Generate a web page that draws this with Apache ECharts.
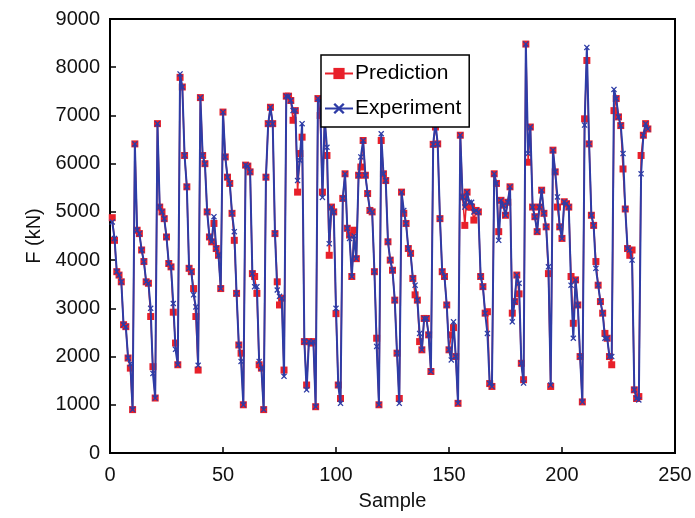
<!DOCTYPE html>
<html>
<head>
<meta charset="utf-8">
<script src="https://cdn.jsdelivr.net/npm/echarts@6/dist/echarts.min.js"></script>
<style>
html,body{margin:0;padding:0;background:#fff;}
#chart{width:695px;height:518px;}
</style>
</head>
<body>
<div id="chart"></div>
<script>
// Sample numbers start at 1
const prediction = [
4880,4410,3760,3690,3550,2660,2620,1970,1760,900,
6410,4620,4550,4210,3970,3550,3520,2830,1790,1140,
6830,5100,5000,4860,4480,3930,3860,2920,2280,1830,
7790,7590,6170,5520,3830,3760,3410,2830,1720,7370,
6170,6000,5000,4480,4380,4760,4240,4100,3410,7070,
6140,5720,5590,4970,4410,3310,2240,2070,1000,5970,
5950,5830,3720,3660,3310,1830,1760,900,5720,6830,
7170,6830,4550,3550,3070,3210,1720,7400,7400,7310,
6900,7100,5410,6210,6550,2310,1410,2310,2280,2310,
960,7350,7000,5410,6930,6170,4100,5100,5000,2890,
1410,1130,5280,5790,4660,4520,3660,4620,4030,5760,
5930,6480,5760,5380,5030,5000,3760,2380,1000,6480,
5790,5650,4380,4000,3790,3170,2070,1130,5410,4970,
4760,4240,4140,3620,3280,3170,2310,2140,2790,2790,
2450,1690,6400,6760,6410,4860,3760,3660,3070,2140,
2450,2600,2000,1030,6590,5310,4720,5410,5100,5100,
4830,5030,5000,3660,3450,2900,2930,1440,1380,5790,
5590,4590,5240,5140,4930,5200,5520,2900,3140,3690,
3300,1860,1520,8480,6030,6760,5100,4900,4590,5100,
5450,4970,4690,3720,1380,6280,5830,5100,4690,4450,
5210,5170,5100,3660,2690,3590,3070,2000,1060,6930,
8140,6410,4930,4720,3970,3480,3140,2900,2480,2380,
2000,1830,7100,7350,6970,6790,5890,5060,4240,4100,
4210,1310,1130,1170,6170,6590,6830,6720
];
const experiment = [
4790,4450,3760,3690,3550,2660,2620,1970,1850,900,
6410,4620,4550,4210,3970,3550,3520,3000,1650,1140,
6830,5100,5000,4860,4480,3930,3860,3100,2150,1830,
7860,7590,6170,5520,3830,3760,3280,3030,1820,7370,
6170,6000,5000,4480,4380,4900,4240,4100,3410,7070,
6140,5720,5590,4970,4590,3310,2240,1900,1000,5970,
5950,5830,3720,3450,3450,1900,1760,900,5720,6830,
7170,6830,4550,3380,3250,3210,1590,7400,7400,7310,
7100,7100,5650,6070,6830,2310,1310,2310,2280,2310,
960,7350,7310,5300,6930,6340,4340,5100,5000,3000,
1410,1030,5280,5790,4660,4450,3660,4500,4030,5760,
6140,6480,5760,5380,5030,5000,3760,2210,1000,6620,
5790,5650,4380,4000,3790,3170,2070,1030,5410,5030,
4760,4240,4140,3620,3480,3170,2480,2140,2790,2790,
2450,1690,6400,6860,6410,4860,3760,3660,3070,2140,
1930,2720,2000,1030,6590,5310,5100,5410,5200,5200,
5000,5030,5000,3660,3450,2900,2480,1440,1380,5790,
5590,4410,5240,5140,4930,5200,5520,2720,3140,3690,
3520,1860,1450,8480,6210,6760,5100,4900,4590,5100,
5450,4970,4690,3860,1410,6280,5830,5310,4690,4450,
5210,5170,5100,3480,2380,3590,3070,2000,1060,6800,
8410,6410,4930,4720,3830,3480,3140,2900,2380,2380,
2000,2000,7540,7350,6970,6790,6210,5060,4240,4210,
4000,1310,1130,1100,5790,6590,6830,6720
];
const xTicks = [0, 50, 100, 150, 200, 250];
const yTicks = [0, 1000, 2000, 3000, 4000, 5000, 6000, 7000, 8000, 9000];

const toPairs = arr => arr.map((v, i) => [i + 1, v]);
const xMark = 'path://M0,1.5L1.5,0L5,3.5L8.5,0L10,1.5L6.5,5L10,8.5L8.5,10L5,6.5L1.5,10L0,8.5L3.5,5Z';
const font = '"Liberation Sans", Arial, sans-serif';
const RED = '#e8202a', BLUE = '#2e3ca6';

const chart = echarts.init(document.getElementById('chart'));
chart.setOption({
  animation: false,
  backgroundColor: '#fff',
  grid: { left: 110, right: 20, top: 19, bottom: 65, show: true, borderColor: '#000', borderWidth: 2, backgroundColor: 'transparent' },
  legend: {
    orient: 'vertical', left: 321, top: 55,
    padding: [8, 8, 8, 3], itemGap: 14, itemWidth: 28, itemHeight: 14,
    backgroundColor: '#fff', borderColor: '#000', borderWidth: 1.5, borderRadius: 0,
    textStyle: { fontFamily: font, fontSize: 21, color: '#000', padding: [0, 0, 0, -3] },
    data: ['Prediction', 'Experiment']
  },
  xAxis: {
    type: 'value', min: xTicks[0], max: xTicks[xTicks.length - 1], interval: 50,
    name: 'Sample', nameLocation: 'middle', nameGap: 38,
    nameTextStyle: { fontFamily: font, fontSize: 20, color: '#111' },
    axisLine: { lineStyle: { color: '#000', width: 2 } },
    axisTick: { inside: true, length: 6, lineStyle: { color: '#000', width: 1.5 } },
    axisLabel: { fontFamily: font, fontSize: 20, color: '#111', margin: 12, formatter: v => String(v) },
    splitLine: { show: false }
  },
  yAxis: {
    type: 'value', min: yTicks[0], max: yTicks[yTicks.length - 1], interval: 1000,
    name: 'F (kN)', nameLocation: 'middle', nameGap: 62, nameRotate: 90,
    nameTextStyle: { fontFamily: font, fontSize: 20, color: '#111' },
    axisLine: { lineStyle: { color: '#000', width: 2 } },
    axisTick: { inside: true, length: 6, lineStyle: { color: '#000', width: 1.5 } },
    axisLabel: { fontFamily: font, fontSize: 20, color: '#111', margin: 10, formatter: v => String(v) },
    splitLine: { show: false }
  },
  series: [
    {
      name: 'Prediction', type: 'line', data: toPairs(prediction),
      symbol: 'rect', symbolSize: 7, showAllSymbol: true,
      lineStyle: { color: RED, width: 1.5 },
      itemStyle: { color: RED },
      z: 2
    },
    {
      name: 'Experiment', type: 'line', data: toPairs(experiment),
      symbol: xMark, symbolSize: 6, showAllSymbol: true,
      lineStyle: { color: BLUE, width: 2 },
      itemStyle: { color: BLUE },
      z: 3
    }
  ]
});
</script>
</body>
</html>
